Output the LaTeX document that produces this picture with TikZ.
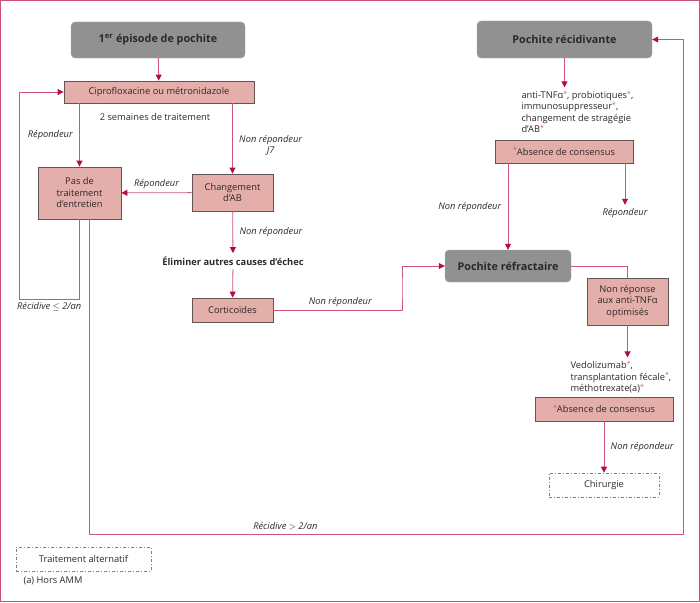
\documentclass[tikz,border=0pt]{standalone}
\usepackage{fontspec}
\setmainfont{Open Sans}
\usetikzlibrary{arrows.meta,positioning,calc}
\definecolor{frame}{RGB}{201,80,120}
\definecolor{lnk}{RGB}{206,86,124}
\definecolor{tip}{RGB}{176,16,62}
\definecolor{rose}{RGB}{228,174,170}
\definecolor{roseline}{RGB}{100,85,85}
\definecolor{grey}{RGB}{145,145,145}
\definecolor{greyline}{RGB}{175,175,175}
\definecolor{ink}{RGB}{45,40,40}
\newcommand{\consmark}{\raisebox{0.45ex}{\color{lnk}\fontsize{7}{7}\selectfont*}}

\begin{document}
\begin{tikzpicture}[x=1pt, y=-1pt, font=\fontsize{9.3}{11.5}\selectfont, text=ink,
   box/.style={draw=roseline, fill=rose, line width=0.8pt, inner sep=1pt, align=center},
   head/.style={draw=greyline, fill=grey, rounded corners=4pt, inner sep=1pt,
      font=\fontsize{10.8}{13}\selectfont\bfseries},
   alt/.style={draw=gray, line width=0.6pt, inner sep=1pt,
      dash pattern=on 3pt off 2pt on 1pt off 2pt},
   lbl/.style={font=\fontsize{9.3}{11.5}\selectfont\itshape},
   arr/.style={draw=lnk, line width=0.8pt, -{Triangle[length=6pt,width=6pt,color=tip]}},
   ln/.style={draw=lnk, line width=0.8pt}]
   \useasboundingbox (0,0) rectangle (700,602);
   \draw[frame, line width=1.2pt] (0.6,0.6) rectangle (699.4,601.4);

   \node (ep1) at (158,40) [head, minimum width=174pt, minimum height=36pt] {1\textsuperscript{er} épisode de pochite};
   \node (cipro) at (159,92) [box, minimum width=190pt, minimum height=22pt] {Ciprofloxacine ou métronidazole};
   \node (sem) at (155,117) {2 semaines de traitement};
   \node (pasde) at (79.5,193) [box, minimum width=83pt, minimum height=52pt] {Pas de\\traitement\\d’entretien};
   \node (chgab) at (232.5,192.5) [box, minimum width=81pt, minimum height=37pt] {Changement\\d’AB};
   \node (elim) at (233,261) [font=\fontsize{9.3}{11.5}\selectfont\bfseries] {Éliminer autres causes d’échec};
   \node (cortico) at (232.5,310) [box, minimum width=81pt, minimum height=24pt] {Corticoïdes};

   \node (recid) at (564.5,39.5) [head, minimum width=175pt, minimum height=37pt] {Pochite récidivante};
   \node (rtxt) at (518,112) [anchor=west, align=left] {anti-TNFα\consmark, probiotiques\consmark,\\immunosuppresseur\consmark,\\changement de stragégie\\d’AB\consmark};
   \node (abs1) at (564,151.5) [box, minimum width=138pt, minimum height=23pt] {\consmark Absence de consensus};
   \node (rep2) at (625,213) [lbl] {Répondeur};
   \node (refr) at (508,266) [head, minimum width=126pt, minimum height=32pt] {Pochite réfractaire};
   \node (nonrep) at (627.5,301.5) [box, minimum width=81pt, minimum height=47pt] {Non réponse\\aux anti-TNFα\\optimisés};
   \node (vtxt) at (567,377) [anchor=west, align=left] {Vedolizumab\consmark,\\transplantation fécale\consmark,\\méthotrexate(a)\consmark};
   \node (abs2) at (604,409) [box, minimum width=138pt, minimum height=24pt] {\consmark Absence de consensus};
   \node (chir) at (604,485) [alt, minimum width=110pt, minimum height=24pt] {Chirurgie};

   \node (leg) at (83.5,559) [alt, minimum width=135pt, minimum height=24pt] {Traitement alternatif};
   \node (hors) at (20,581) [anchor=west] {(a) Hors AMM};

   \coordinate (lp) at (19,299);
   \coordinate (rb) at (683,534);
   \coordinate (ct) at (402,288);

   \draw[arr] (ep1) -- (cipro);
   \draw[arr] (cipro.south -| pasde) -- node[lbl, left=3pt]{Répondeur} (pasde);
   \draw[arr] (cipro.south -| chgab) -- node[lbl, right=3pt, align=center, pos=0.6]{Non répondeur\\J7} (chgab);
   \draw[arr] (chgab) -- node[lbl, above]{Répondeur} (pasde);
   \draw[arr] (chgab) -- node[lbl, right=3pt]{Non répondeur} (elim);
   \draw[arr] (elim) -- (cortico);
   \draw[arr] (cortico.east) -| node[lbl, above, pos=0.26]{Non répondeur} (ct) |- (refr.west);
   \draw[arr] (pasde.south) |- node[lbl, below, pos=0.75]{Récidive $\leq$ 2/an} (lp) |- (cipro.west);
   \draw[arr] ([xshift=10pt]pasde.south) |- node[lbl, above, pos=0.665]{Récidive $>$ 2/an} (rb) |- (recid.east);
   \draw[arr] (recid) -- (recid.south |- rtxt.north);
   \draw[arr] (abs1.south -| refr) -- node[lbl, left=3pt]{Non répondeur} (refr);
   \draw[arr] (abs1.south -| rep2) -- (rep2);
   \draw[ln] (refr) -| (nonrep);
   \draw[arr] (nonrep) -- (nonrep.south |- vtxt.north);
   \draw[arr] (abs2) -- node[lbl, right=3pt]{Non répondeur} (chir);
\end{tikzpicture}
\end{document}
